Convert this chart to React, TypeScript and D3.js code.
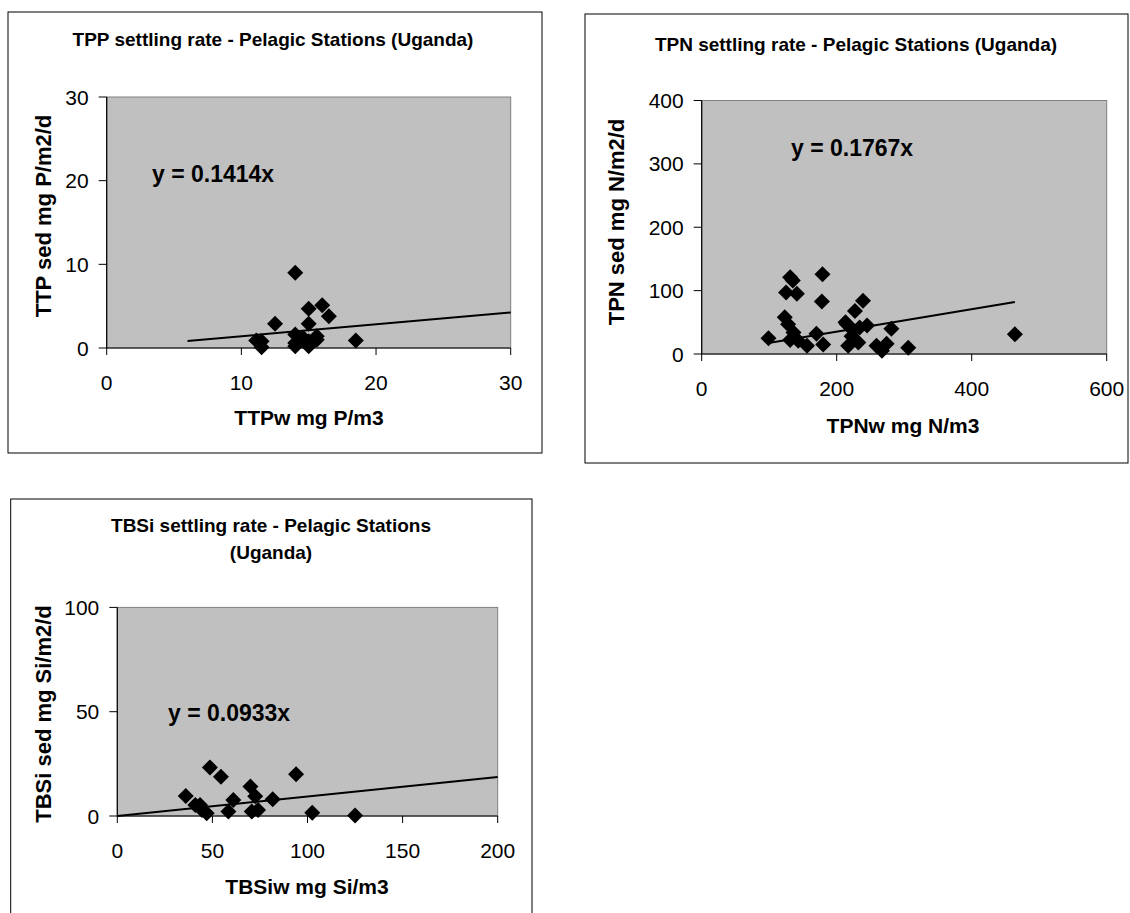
import React from "react";
import * as d3 from "d3";

// TPP panel
const tppX = [14.0, 15.0, 16.0, 16.5, 12.5, 15.0, 18.5, 11.1, 11.5, 11.5, 14.0, 14.0, 14.0, 14.6, 15.0, 15.0, 15.6, 15.6, 14.4];
const tppY = [9.0, 4.7, 5.1, 3.8, 2.9, 2.9, 0.9, 0.9, 0.8, 0.1, 1.6, 0.6, 0.2, 1.2, 0.8, 0.2, 1.4, 1.0, 1.0];
const tppTicksX = [0, 10, 20, 30];
const tppTicksY = [0, 10, 20, 30];
const tppFit = [6, 30];
const tppSlope = 0.1414;

// TPN panel
const tpnX = [99, 131, 135, 125, 141, 179, 178, 123, 128, 136, 131, 143, 156, 170, 180, 215, 227, 239, 225, 234, 217, 232, 259, 267, 274, 281, 306, 464, 222, 213, 245];
const tpnY = [25, 121, 116, 97, 95, 126, 83, 58, 47, 34, 22, 21, 13, 32, 15, 47, 68, 84, 37, 42, 13, 18, 13, 5, 16, 40, 10, 31, 28, 50, 45];
const tpnTicksX = [0, 200, 400, 600];
const tpnTicksY = [0, 100, 200, 300, 400];
const tpnFit = [99, 464];
const tpnSlope = 0.1767;

// TBSi panel
const tbsiX = [36, 41, 43.5, 44.5, 47, 48.7, 54.5, 58.4, 61, 70, 70.7, 72.5, 74, 81.7, 94, 102.5, 125];
const tbsiY = [9.6, 5.3, 5.3, 2.9, 1.3, 23.3, 18.8, 2.1, 7.7, 14.1, 2.1, 9.5, 2.9, 8.0, 20, 1.6, 0.2];
const tbsiTicksX = [0, 50, 100, 150, 200];
const tbsiTicksY = [0, 50, 100];
const tbsiFit = [0, 200];
const tbsiSlope = 0.0933;

const FONT = "'Liberation Sans', Arial, sans-serif";
const diamond = d3.symbol(d3.symbolSquare, 128)();

type PanelProps = {
  box: { x: number; y: number; w: number; h: number };
  plot: { left: number; right: number; top: number; bottom: number };
  title: string[];
  titleX: number;
  titleY: number;
  xLabel: string;
  xLabelPos: [number, number];
  yLabel: string;
  yLabelPos: [number, number];
  eqPos: [number, number];
  xs: number[];
  ys: number[];
  ticksX: number[];
  ticksY: number[];
  fit: number[];
  slope: number;
};

function Panel(p: PanelProps) {
  const x = d3
    .scaleLinear()
    .domain(d3.extent(p.ticksX) as [number, number])
    .range([p.plot.left, p.plot.right]);
  const y = d3
    .scaleLinear()
    .domain(d3.extent(p.ticksY) as [number, number])
    .range([p.plot.bottom, p.plot.top]);
  const line = d3
    .line<number>()
    .x((d) => x(d))
    .y((d) => y(d * p.slope));

  return (
    <g>
      <rect x={p.box.x} y={p.box.y} width={p.box.w} height={p.box.h} fill="#fff" stroke="#000" strokeWidth={1} />
      {p.title.map((t, i) => (
        <text key={i} x={p.titleX} y={p.titleY + i * 27} textAnchor="middle" fontFamily={FONT} fontWeight="bold" fontSize={19}>
          {t}
        </text>
      ))}
      <rect
        x={p.plot.left}
        y={p.plot.top}
        width={p.plot.right - p.plot.left}
        height={p.plot.bottom - p.plot.top}
        fill="#c0c0c0"
        stroke="#808080"
        strokeWidth={1}
      />
      {/* axes */}
      <line x1={p.plot.left} x2={p.plot.left} y1={p.plot.top} y2={p.plot.bottom} stroke="#000" strokeWidth={1.2} />
      <line x1={p.plot.left} x2={p.plot.right} y1={p.plot.bottom} y2={p.plot.bottom} stroke="#000" strokeWidth={1.2} />
      {p.ticksY.map((t) => (
        <g key={"y" + t}>
          <line x1={p.plot.left - 8} x2={p.plot.left} y1={y(t)} y2={y(t)} stroke="#000" />
          <text x={p.plot.left - 18} y={y(t) + 7.5} textAnchor="end" fontFamily={FONT} fontSize={21}>
            {t}
          </text>
        </g>
      ))}
      {p.ticksX.map((t) => (
        <g key={"x" + t}>
          <line x1={x(t)} x2={x(t)} y1={p.plot.bottom} y2={p.plot.bottom + 7} stroke="#000" />
          <text x={x(t)} y={p.plot.bottom + 42} textAnchor="middle" fontFamily={FONT} fontSize={21}>
            {t}
          </text>
        </g>
      ))}
      <path d={line(p.fit) || ""} fill="none" stroke="#000" strokeWidth={2} />
      {p.xs.map((v, i) => (
        <path key={i} d={diamond} transform={`translate(${x(v)},${y(p.ys[i])}) rotate(45)`} fill="#000" />
      ))}
      <text x={p.eqPos[0]} y={p.eqPos[1]} fontFamily={FONT} fontWeight="bold" fontSize={23}>
        {`y = ${p.slope}x`}
      </text>
      <text x={p.xLabelPos[0]} y={p.xLabelPos[1]} textAnchor="middle" fontFamily={FONT} fontWeight="bold" fontSize={21}>
        {p.xLabel}
      </text>
      <text
        transform={`translate(${p.yLabelPos[0]},${p.yLabelPos[1]}) rotate(-90)`}
        textAnchor="middle"
        fontFamily={FONT}
        fontWeight="bold"
        fontSize={22}
      >
        {p.yLabel}
      </text>
    </g>
  );
}

export default function App() {
  return (
    <svg width={1130} height={913} style={{ position: "absolute", left: 0, top: 0, background: "#fff" }}>
      <Panel
        box={{ x: 8, y: 12, w: 534, h: 441 }}
        plot={{ left: 106.7, right: 510.7, top: 97, bottom: 348 }}
        title={["TPP settling rate - Pelagic Stations (Uganda)"]}
        titleX={273}
        titleY={46}
        xLabel="TTPw mg P/m3"
        xLabelPos={[309, 425]}
        yLabel="TTP sed mg P/m2/d"
        yLabelPos={[51, 216]}
        eqPos={[152, 182]}
        xs={tppX}
        ys={tppY}
        ticksX={tppTicksX}
        ticksY={tppTicksY}
        fit={tppFit}
        slope={tppSlope}
      />
      <Panel
        box={{ x: 585, y: 14, w: 543, h: 449 }}
        plot={{ left: 701.7, right: 1106.7, top: 100.5, bottom: 354 }}
        title={["TPN settling rate - Pelagic Stations (Uganda)"]}
        titleX={856}
        titleY={51}
        xLabel="TPNw mg N/m3"
        xLabelPos={[903, 433]}
        yLabel="TPN sed mg N/m2/d"
        yLabelPos={[624, 222]}
        eqPos={[791, 156]}
        xs={tpnX}
        ys={tpnY}
        ticksX={tpnTicksX}
        ticksY={tpnTicksY}
        fit={tpnFit}
        slope={tpnSlope}
      />
      <Panel
        box={{ x: 10.7, y: 499, w: 521.3, h: 440 }}
        plot={{ left: 117.3, right: 497.7, top: 607.4, bottom: 816 }}
        title={["TBSi settling rate - Pelagic Stations", "(Uganda)"]}
        titleX={271}
        titleY={532}
        xLabel="TBSiw mg Si/m3"
        xLabelPos={[307, 894]}
        yLabel="TBSi sed mg Si/m2/d"
        yLabelPos={[51, 714]}
        eqPos={[168, 721]}
        xs={tbsiX}
        ys={tbsiY}
        ticksX={tbsiTicksX}
        ticksY={tbsiTicksY}
        fit={tbsiFit}
        slope={tbsiSlope}
      />
    </svg>
  );
}
